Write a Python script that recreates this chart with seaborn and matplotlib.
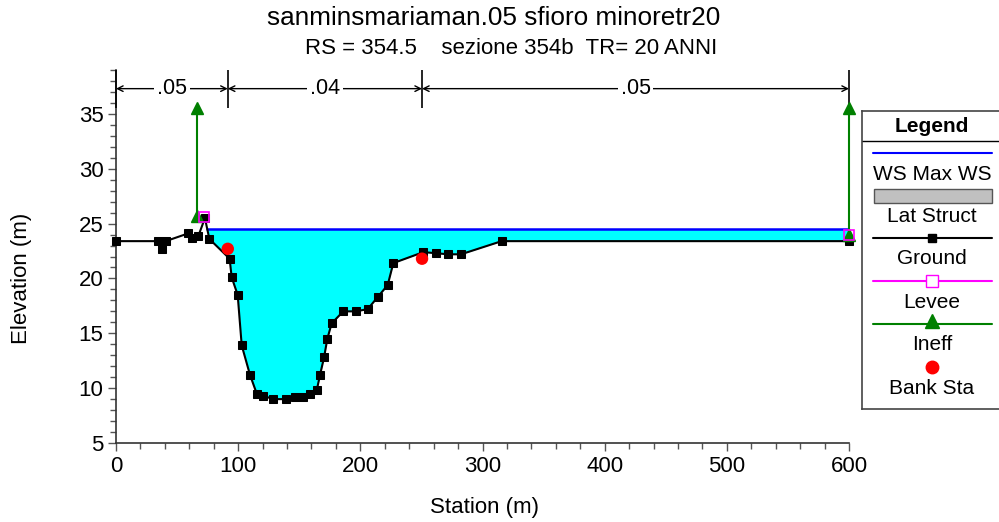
import numpy as np
import pandas as pd
import seaborn as sns
import matplotlib.pyplot as plt
from matplotlib.patches import Rectangle
from matplotlib.ticker import MultipleLocator

sns.set_style("ticks")
plt.rcParams['font.family'] = ['Liberation Sans', 'DejaVu Sans']
plt.rcParams['text.color'] = 'black'
plt.rcParams['xtick.labelcolor'] = 'black'
plt.rcParams['ytick.labelcolor'] = 'black'

# Ground profile (station m, elevation m)
ground_sta = [0, 34, 37.5, 40.7, 59, 62, 67.5, 72.8, 76.4, 93, 94.7, 99.6, 102.9,
              109.7, 115.2, 120.6, 128.8, 139.2, 146.5, 153.3, 158.8, 164.3, 167,
              170.3, 173, 176.5, 186, 196.2, 206, 214.2, 222.4, 227, 251.6, 261.9,
              272, 282.4, 315.7, 600]
ground_elev = [23.4, 23.4, 22.7, 23.4, 24.1, 23.7, 23.9, 25.5, 23.6, 21.8, 20.1, 18.5,
               13.9, 11.2, 9.5, 9.3, 9.0, 9.0, 9.2, 9.2, 9.5, 9.8, 11.2, 12.8, 14.5,
               15.9, 17.0, 17.0, 17.2, 18.3, 19.4, 21.4, 22.4, 22.3, 22.2, 22.2, 23.4,
               23.4]

# water surface (Max WS) and its extent
ws_elev = 24.5
ws_extent = [74.7, 600]

# bank stations, levees, ineffective flow areas
bank_sta = [91.5, 250.5]
bank_elev = [22.7, 21.8]
levee_sta = [72.3, 600]
levee_elev = [25.6, 24.0]
ineff_sta = [66.5, 600]
ineff_elev = [25.7, 24.0]
ineff_top = 35.5

# Manning n values between breaks
n_breaks = [0, 91.5, 250.5, 600]
n_values = ['.05', '.04', '.05']

title = 'sanminsmariaman.05 sfioro minoretr20'
subtitle = 'RS = 354.5    sezione 354b  TR= 20 ANNI'

df = pd.DataFrame({'sta': ground_sta, 'elev': ground_elev})

fig = plt.figure(figsize=(9.99, 5.22), dpi=100)
ax = fig.add_axes([116 / 999, 1 - 443 / 522, 733 / 999, 373 / 522])

# water fill
sta = np.array(ground_sta)
elev = np.array(ground_elev)
ax.fill_between(sta, elev, ws_elev, where=(elev < ws_elev) & (sta > 70),
                interpolate=True, color='#00ffff', lw=0, zorder=1)
ax.plot(ws_extent, [ws_elev, ws_elev], color='#0000ff', lw=1.8, zorder=2)

# ground
sns.lineplot(data=df, x='sta', y='elev', color='black', lw=1.5, marker='s',
             markersize=5.5, markeredgecolor='black', estimator=None, sort=False,
             ax=ax, zorder=3, clip_on=False)

# ineffective flow
for s, e in zip(ineff_sta, ineff_elev):
    ax.plot([s, s], [e, ineff_top], color='#008000', lw=1.5, marker='^',
            markersize=9, clip_on=False, zorder=5)

# levees
ax.plot(levee_sta, levee_elev, ls='none', marker='s', mfc='none', mec='#ff00ff',
        markersize=7, mew=1.2, clip_on=False, zorder=6)

# bank stations
sns.scatterplot(x=bank_sta, y=bank_elev, color='#ff0000', s=80, edgecolor='none',
                ax=ax, zorder=7)

# n value annotations
n_y = 37.3
ax.vlines(n_breaks, 35.5, 39, color='black', lw=1.2, clip_on=False, zorder=4)
for i, val in enumerate(n_values):
    ax.annotate('', xy=(n_breaks[i], n_y), xytext=(n_breaks[i + 1], n_y),
                arrowprops=dict(arrowstyle='<->', color='black', lw=1,
                                shrinkA=0, shrinkB=0))
    ax.text((n_breaks[i] + n_breaks[i + 1]) / 2, n_y, val, ha='center', va='center',
            fontsize=15.5, bbox=dict(fc='white', ec='none', pad=2))

ax.set_xlim(0, 600)
ax.set_ylim(5, 39)
ax.set_xticks(range(0, 601, 100))
ax.set_yticks(range(5, 36, 5))
ax.xaxis.set_minor_locator(MultipleLocator(20))
ax.yaxis.set_minor_locator(MultipleLocator(1))
ax.tick_params(which='major', length=6, width=1, color='#555555', labelsize=16, pad=3)
ax.tick_params(which='minor', length=4, width=1, color='#555555')
ax.set_xlabel('')
ax.set_ylabel('')
sns.despine(ax=ax)
for sp in ['left', 'bottom']:
    ax.spines[sp].set_linewidth(1.2)
    ax.spines[sp].set_color('#333333')

fig.text(484 / 999, 1 - 508 / 522, 'Station (m)', ha='center', va='center', fontsize=16)
fig.text(22 / 999, 1 - 278 / 522, 'Elevation (m)', ha='center', va='center',
         fontsize=16, rotation=90)
fig.text(494 / 999, 1 - 18 / 522, title, ha='center', va='center', fontsize=18.8)
fig.text(511 / 999, 1 - 48 / 522, subtitle, ha='center', va='center', fontsize=16)

# legend box, drawn in pixel-like coordinates
lg = fig.add_axes([862 / 999, 1 - 409 / 522, 139 / 999, 298 / 522])
lg.set_xlim(862, 1001)
lg.set_ylim(409, 111)
lg.set_xticks([])
lg.set_yticks([])
for sp in lg.spines.values():
    sp.set_color('#444444')
    sp.set_linewidth(1.2)
cx = 932
lg.text(cx, 126, 'Legend', ha='center', va='center', fontsize=15, fontweight='bold')
lg.plot([862, 1001], [141, 141], color='black', lw=1)
lg.plot([873, 992], [153, 153], color='#0000ff', lw=1.5)
lg.text(cx, 174, 'WS Max WS', ha='center', va='center', fontsize=15)
lg.add_patch(Rectangle((874, 189), 118, 14, fc='#c0c0c0', ec='#555555', lw=1))
lg.text(cx, 216, 'Lat Struct', ha='center', va='center', fontsize=15)
lg.plot([873, 992], [238, 238], color='black', lw=1.5)
lg.plot([cx], [238], marker='s', color='black', markersize=5.5)
lg.text(cx, 259, 'Ground', ha='center', va='center', fontsize=15)
lg.plot([873, 992], [281, 281], color='#ff00ff', lw=1.5)
lg.plot([cx], [281], marker='s', mfc='white', mec='#ff00ff', markersize=9, mew=1)
lg.text(cx, 302, 'Levee', ha='center', va='center', fontsize=15)
lg.plot([873, 992], [324, 324], color='#008000', lw=1.5)
lg.plot([cx], [321], marker='^', color='#008000', markersize=10)
lg.text(cx, 345, 'Ineff', ha='center', va='center', fontsize=15)
lg.plot([cx], [367], marker='o', color='#ff0000', markersize=9)
lg.text(cx, 388, 'Bank Sta', ha='center', va='center', fontsize=15)

fig.savefig('out.png', dpi=100)
